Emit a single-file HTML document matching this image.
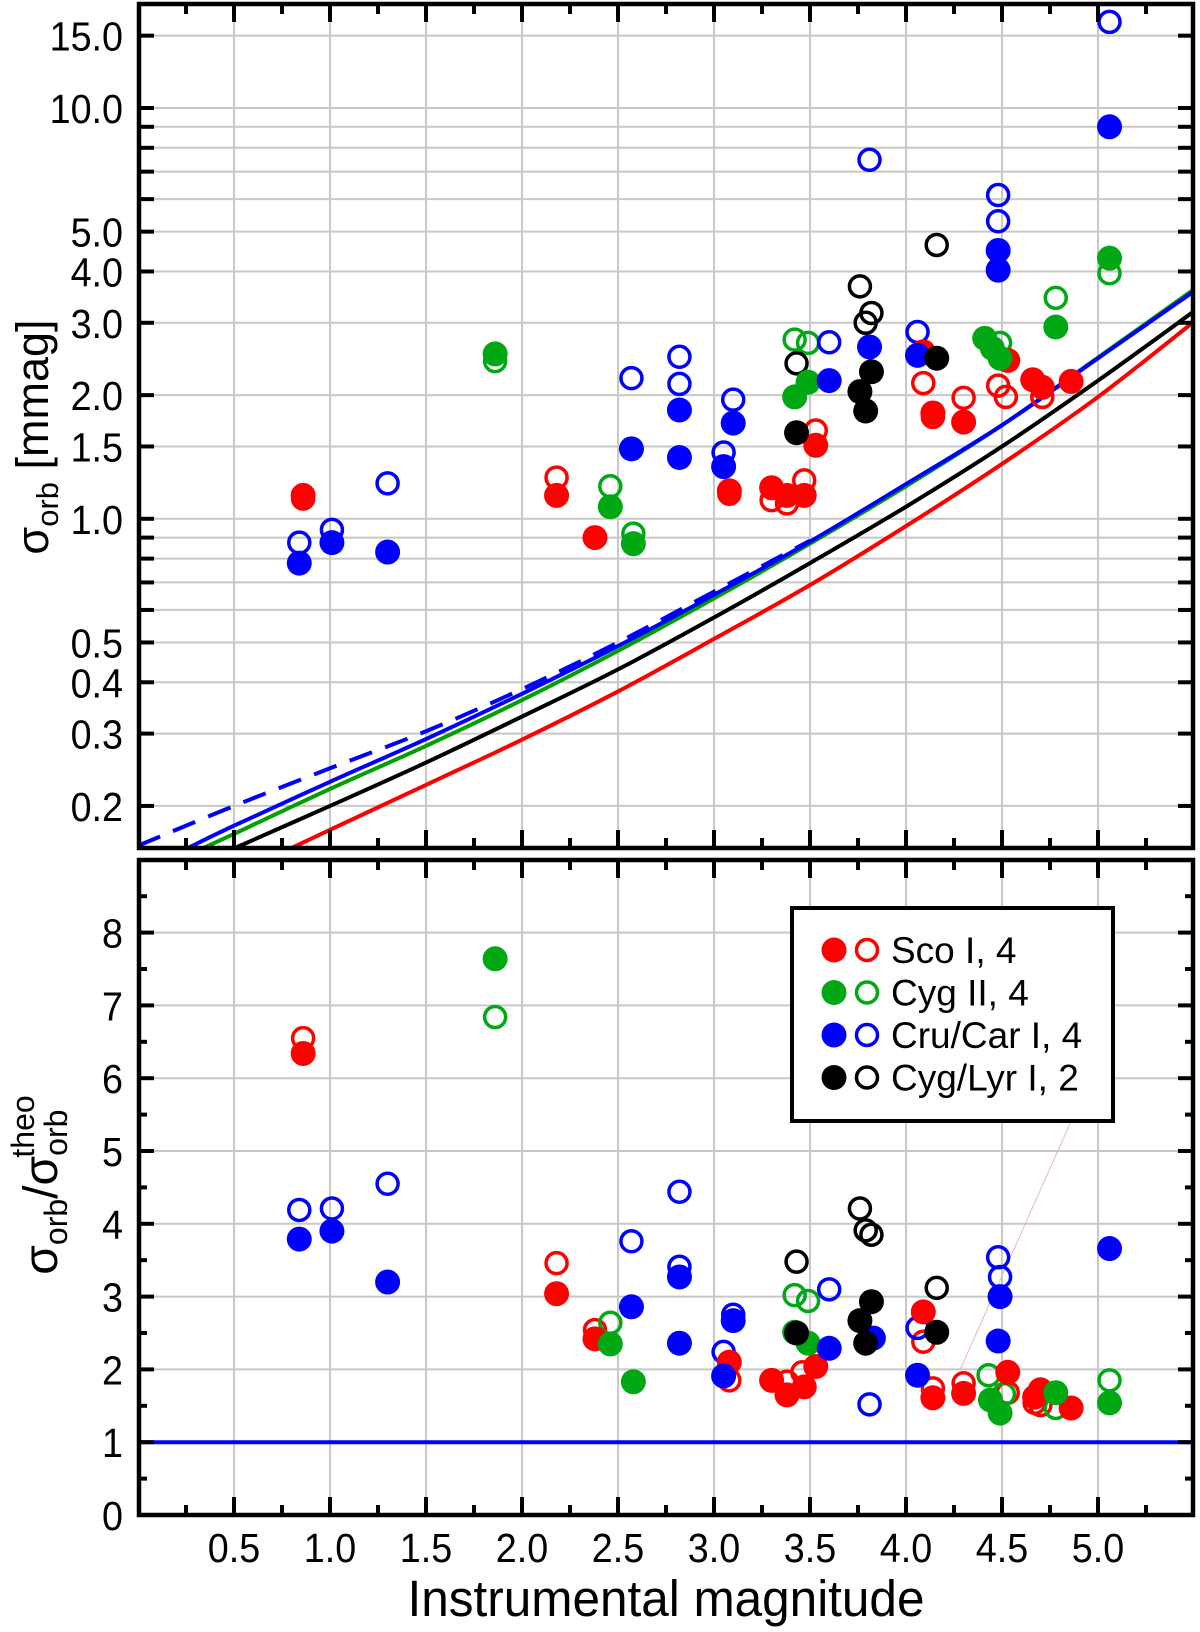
<!DOCTYPE html>
<html><head><meta charset="utf-8"><style>
html,body{margin:0;padding:0;background:#fff}
svg{display:block;font-family:"Liberation Sans",Arial,sans-serif}
</style></head><body>
<svg id="chart" width="1200" height="1632" viewBox="0 0 1200 1632" xmlns="http://www.w3.org/2000/svg">
<rect x="0" y="0" width="1200" height="1632" fill="#fff"/>
<g id="grid"></g>
<g id="curves"></g>
<g id="points"></g>
<g id="frames"></g>
<g id="labels"></g>
<text transform="translate(48,437) rotate(-90)" text-anchor="middle" font-size="45">σ<tspan font-size="31" dy="10">orb</tspan><tspan dy="-10"> [mmag]</tspan></text>
<text transform="translate(57,1185) rotate(-90)" text-anchor="middle" font-size="48">σ<tspan font-size="32" dy="10">orb</tspan><tspan dy="-10">/σ</tspan><tspan font-size="32" dy="10">orb</tspan><tspan font-size="32" dx="-48" dy="-33">theo</tspan></text>
<text transform="translate(666,1616) scale(0.97,1)" text-anchor="middle" font-size="51">Instrumental magnitude</text>
<g>
<rect x="792" y="908" width="321" height="213" fill="#fff" stroke="#000" stroke-width="4"/>
<g id="legend-entries"></g>
</g>
</svg>
<script>
// ---- data (magnitude, value) ----
const xTicksMajor=[0.5,1.0,1.5,2.0,2.5,3.0,3.5,4.0,4.5,5.0];
const xTickLabels=["0.5","1.0","1.5","2.0","2.5","3.0","3.5","4.0","4.5","5.0"];
const topTickVals=[0.2,0.3,0.4,0.5,0.6,0.7,0.8,0.9,1,1.5,2,3,4,5,6,7,8,9,10,15];
const topLabelVals=[15,10,5,4,3,2,1.5,1,0.5,0.4,0.3,0.2];
const topLabels=["15.0","10.0","5.0","4.0","3.0","2.0","1.5","1.0","0.5","0.4","0.3","0.2"];
const botLabelVals=[0,1,2,3,4,5,6,7,8];
const botLabels=["0","1","2","3","4","5","6","7","8"];

const scoFilledTop=[[0.86,1.14],[2.18,1.14],[2.38,0.90],[3.08,1.17],[3.30,1.19],[3.38,1.14],[3.47,1.14],[3.53,1.51],[4.09,2.55],[4.14,1.81],[4.30,1.72],[4.53,2.43],[4.66,2.18],[4.71,2.09],[4.86,2.16]];
const scoOpenTop=[[0.86,1.12],[2.18,1.26],[3.08,1.15],[3.30,1.11],[3.38,1.09],[3.47,1.24],[3.53,1.64],[4.09,2.14],[4.14,1.77],[4.30,1.97],[4.48,2.11],[4.52,1.98],[4.71,1.98]];
const cygFilledTop=[[1.86,2.52],[2.46,1.07],[2.58,0.87],[3.42,1.98],[3.49,2.15],[4.41,2.75],[4.45,2.6],[4.49,2.46],[4.78,2.93],[5.06,4.31]];
const cygOpenTop=[[1.86,2.42],[2.46,1.2],[2.58,0.92],[3.42,2.73],[3.49,2.68],[4.49,2.68],[4.78,3.45],[5.06,3.96]];
const cruFilledTop=[[0.84,0.78],[1.01,0.875],[1.30,0.83],[2.57,1.48],[2.82,1.41],[2.82,1.84],[3.05,1.34],[3.10,1.71],[3.60,2.17],[3.81,2.62],[4.06,2.50],[4.48,4.5],[4.48,4.03],[5.06,9.0]];
const cruOpenTop=[[0.84,0.875],[1.01,0.94],[1.30,1.22],[2.57,2.20],[2.82,2.48],[2.82,2.13],[3.05,1.45],[3.10,1.95],[3.60,2.69],[3.81,7.48],[4.06,2.85],[4.48,5.3],[4.48,6.14],[5.06,16.2]];
const lyrFilledTop=[[3.43,1.62],[3.76,2.04],[3.79,1.83],[3.82,2.28],[4.16,2.46]];
const lyrOpenTop=[[3.43,2.39],[3.76,3.68],[3.79,3.0],[3.82,3.17],[4.16,4.64]];

const scoFilledBot=[[0.86,6.34],[2.18,3.04],[2.38,2.42],[3.08,2.1],[3.30,1.85],[3.38,1.65],[3.47,1.76],[3.53,2.04],[4.09,2.79],[4.14,1.61],[4.30,1.67],[4.53,1.96],[4.67,1.62],[4.70,1.72],[4.86,1.47]];
const scoOpenBot=[[0.86,6.55],[2.18,3.46],[2.38,2.54],[3.08,1.85],[3.38,1.83],[3.46,1.96],[4.09,2.38],[4.14,1.74],[4.30,1.81],[4.53,1.68],[4.67,1.54],[4.70,1.51]];
const cygFilledBot=[[1.86,7.64],[2.46,2.35],[2.58,1.83],[3.42,2.51],[3.49,2.36],[4.44,1.58],[4.49,1.40],[4.78,1.68],[5.06,1.54]];
const cygOpenBot=[[1.86,6.84],[2.46,2.64],[3.42,3.02],[3.49,2.94],[4.43,1.92],[4.51,1.66],[4.78,1.47],[5.06,1.85]];
const cruFilledBot=[[0.84,3.79],[1.01,3.9],[1.30,3.2],[2.57,2.86],[2.82,3.27],[2.82,2.36],[3.05,1.91],[3.10,2.67],[3.60,2.29],[3.83,2.43],[4.06,1.92],[4.49,3.0],[4.48,2.39],[5.06,3.66]];
const cruOpenBot=[[0.84,4.19],[1.01,4.21],[1.30,4.55],[2.57,3.76],[2.82,4.44],[2.82,3.41],[3.05,2.24],[3.10,2.75],[3.60,3.1],[3.81,1.52],[4.06,2.57],[4.48,3.54],[4.49,3.27]];
const lyrFilledBot=[[3.43,2.5],[3.76,2.67],[3.79,2.36],[3.82,2.93],[4.16,2.51]];
const lyrOpenBot=[[3.43,3.48],[3.76,4.21],[3.79,3.91],[3.82,3.85],[4.16,3.12]];

const blueSolidMag=[0.26,0.5,1.0,1.5,2.0,2.5,3.0,3.5,4.0,4.5,5.0,5.5];
const blueSolidVal=[0.158,0.179,0.229,0.291,0.375,0.49,0.653,0.88,1.215,1.69,2.46,3.58];
const blueDashMag=[0.0,0.5,1.0,1.5,2.0,2.5,3.0,3.5];
const blueDashVal=[0.16,0.20,0.247,0.304,0.385,0.50,0.665,0.885];
const greenMag=[0.34,0.5,1.0,1.5,2.0,2.5,3.0,3.5,4.0,4.5,5.0,5.5];
const greenVal=[0.158,0.171,0.22,0.28,0.362,0.477,0.64,0.87,1.2,1.69,2.47,3.62];
const blackMag=[0.505,1.0,1.5,2.0,2.5,3.0,3.5,4.0,4.5,5.0,5.5];
const blackVal=[0.158,0.2,0.255,0.33,0.43,0.575,0.78,1.07,1.5,2.17,3.2];
const redMag=[0.80,1.0,1.5,2.0,2.5,3.0,3.5,4.0,4.5,5.0,5.5];
const redVal=[0.158,0.175,0.225,0.29,0.38,0.51,0.69,0.96,1.36,1.98,3.02];
const ratioLineVal=[1];

// ---- axes ----
const L=139,R=1193,T1=4,B1=848,T2=860,B2=1515;
const X=m=>138+192*m;
const Yt=v=>518.8-410.8*Math.log10(v);
const Yb=v=>1515-72.8*v;
const NS="http://www.w3.org/2000/svg";
function mk(tag,attrs,parent){const e=document.createElementNS(NS,tag);for(const k in attrs)e.setAttribute(k,attrs[k]);parent.appendChild(e);return e;}
const grid=document.getElementById('grid'),frames=document.getElementById('frames'),labels=document.getElementById('labels');
const GC="#c8c8c8";
xTicksMajor.forEach(m=>{
  let l=mk('line',{x1:X(m),x2:X(m),y1:T1,y2:B1,stroke:GC,'stroke-width':2},grid);
  
  
  let l2=mk('line',{x1:X(m),x2:X(m),y1:T2,y2:B2,stroke:GC,'stroke-width':2},grid);
  
  
});
topTickVals.forEach(v=>{
  let l=mk('line',{x1:L,x2:R,y1:Yt(v),y2:Yt(v),stroke:GC,'stroke-width':2},grid);
  
  
});
botLabelVals.forEach(v=>{
  let l=mk('line',{x1:L,x2:R,y1:Yb(v),y2:Yb(v),stroke:GC,'stroke-width':2},grid);
  
  
});
[[T1,B1],[T2,B2]].forEach(([t,b])=>{
  let r=mk('rect',{x:L,y:t,width:R-L,height:b-t,fill:'none',stroke:'#000','stroke-width':4.5},frames);
  
  
});
function tick(x1,y1,x2,y2){let t=mk('line',{x1,y1,x2,y2,stroke:'#000','stroke-width':4},frames);
  
  }
for(let i=1;i<=21;i++){const m=i*0.25;const len=(i%2===0)?18:10;const x=X(m);
  tick(x,T1,x,T1+len);tick(x,B1,x,B1-len);tick(x,T2,x,T2+len);tick(x,B2,x,B2-len);}
topTickVals.forEach(v=>{const y=Yt(v);tick(L,y,L+15,y);tick(R,y,R-15,y);});
for(let i=1;i<=17;i++){const v=i*0.5;const y=Yb(v);const len=(i%2===0)?15:8;tick(L,y,L+len,y);tick(R,y,R-len,y);}
function txt(s,x,y,anchor,size,name){const t=mk('text',{transform:`translate(${x},${y}) scale(0.92,1)`,'text-anchor':anchor,'font-size':size},labels);t.textContent=s;
  
  }
xTicksMajor.forEach((m,i)=>txt(xTickLabels[i],X(m),1562,'middle',41,'x-tick-label'));
topLabelVals.forEach((v,i)=>txt(topLabels[i],123,Yt(v)+15,'end',41,'y-tick-label-top'));
botLabelVals.forEach((v,i)=>txt(botLabels[i],123,Yb(v)+15,'end',41,'y-tick-label-bottom'));

// ---- curves ----
const curves=document.getElementById('curves');
mk('clipPath',{id:'clipTop'},curves);
const cp=curves.querySelector('#clipTop');mk('rect',{x:L,y:T1,width:R-L,height:B1-T1},cp);
function spline(pts){let d=`M${pts[0][0]},${pts[0][1]}`;for(let i=0;i<pts.length-1;i++){const p0=pts[Math.max(0,i-1)],p1=pts[i],p2=pts[i+1],p3=pts[Math.min(pts.length-1,i+2)];
  const c1=[p1[0]+(p2[0]-p0[0])/6,p1[1]+(p2[1]-p0[1])/6],c2=[p2[0]-(p3[0]-p1[0])/6,p2[1]-(p3[1]-p1[1])/6];
  d+=` C${c1[0]},${c1[1]} ${c2[0]},${c2[1]} ${p2[0]},${p2[1]}`;}return d;}
function curve(ms,vs,color,dash,name){const pts=ms.map((m,i)=>[X(m),Yt(vs[i])]);
  const p=mk('path',{d:spline(pts),fill:'none',stroke:color,'stroke-width':4,'clip-path':'url(#clipTop)'},curves);
  if(dash)p.setAttribute('stroke-dasharray',dash);
  
  }
curve(redMag,redVal,'#ff0000',null,'theory-curve-sco');
curve(blackMag,blackVal,'#000000',null,'theory-curve-cyg-lyr');
curve(greenMag,greenVal,'#00a000',null,'theory-curve-cyg');
curve(blueSolidMag,blueSolidVal,'#0000ff',null,'theory-curve-cru-car');
curve(blueDashMag,blueDashVal,'#0000ff','24,14','theory-curve-cru-car-dashed');
ratioLineVal.forEach(v=>{const l=mk('line',{x1:L,x2:R,y1:Yb(v),y2:Yb(v),stroke:'#0000ff','stroke-width':4},curves);
  
  });
const faint=mk('line',{x1:960,y1:1370,x2:1085,y2:1090,stroke:'#e8b8b8','stroke-width':1},curves);



// ---- points ----
const pts=document.getElementById('points');
function openPts(arr,Y,color,name){arr.forEach(([m,v])=>{const c=mk('circle',{cx:X(m),cy:Y(v),r:10.5,fill:'none',stroke:color,'stroke-width':3.5},pts);
  
  });}
function fillPts(arr,Y,color,name){arr.forEach(([m,v])=>{const c=mk('circle',{cx:X(m),cy:Y(v),r:12.5,fill:color},pts);
  
  });}
const RED='#ff0000',GRN='#00a814',BLU='#0000ff',BLK='#000000';
openPts(scoOpenTop,Yt,RED,'sco-open-top');openPts(cygOpenTop,Yt,GRN,'cyg-open-top');openPts(cruOpenTop,Yt,BLU,'cru-open-top');openPts(lyrOpenTop,Yt,BLK,'lyr-open-top');
fillPts(scoFilledTop,Yt,RED,'sco-filled-top');fillPts(cygFilledTop,Yt,GRN,'cyg-filled-top');fillPts(cruFilledTop,Yt,BLU,'cru-filled-top');fillPts(lyrFilledTop,Yt,BLK,'lyr-filled-top');
openPts(scoOpenBot,Yb,RED,'sco-open-bottom');openPts(cygOpenBot,Yb,GRN,'cyg-open-bottom');openPts(cruOpenBot,Yb,BLU,'cru-open-bottom');openPts(lyrOpenBot,Yb,BLK,'lyr-open-bottom');
fillPts(scoFilledBot,Yb,RED,'sco-filled-bottom');fillPts(cygFilledBot,Yb,GRN,'cyg-filled-bottom');fillPts(cruFilledBot,Yb,BLU,'cru-filled-bottom');fillPts(lyrFilledBot,Yb,BLK,'lyr-filled-bottom');

// ---- legend ----
const legendNames=["Sco I, 4","Cyg II, 4","Cru/Car I, 4","Cyg/Lyr I, 2"];
const legendColors=[RED,GRN,BLU,BLK];
const lg=document.getElementById('legend-entries');
legendNames.forEach((s,i)=>{const y=950+i*42.5;
  const g=mk('g',{},lg);
  
  
  mk('circle',{cx:834,cy:y,r:12.5,fill:legendColors[i]},g);
  mk('circle',{cx:867,cy:y,r:10.5,fill:'none',stroke:legendColors[i],'stroke-width':3.5},g);
  const t=mk('text',{transform:`translate(891,${y+13})`,'font-size':37},g);t.textContent=s;});
</script>
</body></html>
